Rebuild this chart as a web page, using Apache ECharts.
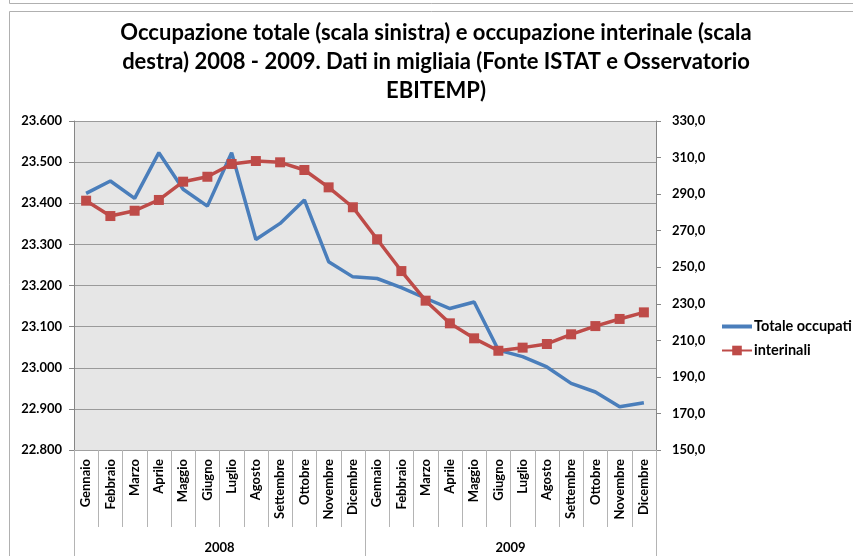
<!DOCTYPE html>
<html>
<head>
<meta charset="utf-8">
<script src="https://cdn.jsdelivr.net/npm/echarts@6/dist/echarts.min.js"></script>
<style>
html,body{margin:0;padding:0;background:#fff;}
#chart{width:853px;height:556px;}
</style>
</head>
<body>
<div id="chart"></div>
<script>
var titleText = 'Occupazione totale (scala sinistra) e occupazione interinale (scala\ndestra) 2008 - 2009. Dati in migliaia (Fonte ISTAT e Osservatorio\nEBITEMP)';
var months = ['Gennaio','Febbraio','Marzo','Aprile','Maggio','Giugno','Luglio','Agosto','Settembre','Ottobre','Novembre','Dicembre',
              'Gennaio','Febbraio','Marzo','Aprile','Maggio','Giugno','Luglio','Agosto','Settembre','Ottobre','Novembre','Dicembre'];
var years = ['2008','2009'];
var totaleOccupati = [23424,23454,23412,23523,23434,23393,23523,23312,23351,23408,23258,23221,
                      23217,23195,23169,23144,23160,23043,23027,23002,22962,22941,22905,22915];
var interinali = [286.4,278.0,280.9,286.8,296.8,299.5,306.5,308.1,307.4,303.2,293.7,282.8,
                  265.3,247.9,231.7,219.3,211.1,204.3,206.0,208.0,213.3,217.8,221.7,225.3];
var rightTicks = [150,170,190,210,230,250,270,290,310,330];
var seriesNames = ['Totale occupati','interinali'];

var FONT = 'Lato';
var chart = echarts.init(document.getElementById('chart'), null, {renderer:'canvas'});
var option = {
  backgroundColor: '#ffffff',
  animation: false,
  textStyle: {fontFamily: FONT},
  title: {
    text: titleText,
    left: 436,
    top: 18,
    textAlign: 'center',
    padding: 0,
    textStyle: {fontFamily: FONT, fontSize: 22, fontWeight: 'bold', color: '#000', lineHeight: 29}
  },
  graphic: [
    {type:'line', shape:{x1:9.5,y1:0,x2:9.5,y2:3.5}, style:{stroke:'#b0b0b0',lineWidth:1}},
    {type:'line', shape:{x1:9.5,y1:3.5,x2:853,y2:3.5}, style:{stroke:'#b0b0b0',lineWidth:1}},
    {type:'rect', shape:{x:9.5,y:11.5,width:900,height:600}, style:{fill:'none',stroke:'#b0b0b0',lineWidth:1}, z:-1}
  ],
  legend: {
    left: 716,
    top: 314,
    orient: 'vertical',
    itemWidth: 30,
    itemHeight: 12,
    itemGap: 9,
    data: [
      {name: seriesNames[0], icon: 'path://M0,0H30V4H0Z'},
      {name: seriesNames[1]}
    ],
    textStyle: {fontFamily: FONT, fontSize: 14.5, fontWeight: 'bold', color: '#000', padding: [0,0,0,-3]}
  },
  grid: {
    left: 74, right: 197, top: 121, bottom: 106,
    show: true, backgroundColor: '#e6e6e6', borderWidth: 0,
    containLabel: false
  },
  xAxis: [
    {
      type: 'category',
      data: months,
      boundaryGap: true,
      position: 'bottom',
      axisLine: {show: true, lineStyle: {color: '#a0a0a0', width: 1}},
      axisTick: {show: true, interval: 0, length: 77, lineStyle: {color: '#b4b4b4'}},
      axisLabel: {interval: 0, rotate: 90, margin: 9, fontFamily: FONT, fontSize: 13, fontWeight: 'bold', color: '#000'}
    },
    {
      type: 'category',
      data: years,
      boundaryGap: true,
      position: 'bottom',
      axisLine: {show: false},
      axisTick: {show: true, interval: 0, length: 110, lineStyle: {color: '#b4b4b4'}},
      axisLabel: {interval: 0, margin: 91, fontFamily: FONT, fontSize: 13, fontWeight: 'bold', color: '#000'}
    }
  ],
  yAxis: [
    {
      type: 'value',
      min: 22800, max: 23600, interval: 100,
      position: 'left',
      axisLine: {show: true, lineStyle: {color: '#868686'}},
      axisTick: {show: true, length: 5, lineStyle: {color: '#868686'}},
      splitLine: {show: true, lineStyle: {color: '#9a9a9a', width: 1}},
      axisLabel: {
        margin: 12, fontFamily: FONT, fontSize: 13, fontWeight: 'bold', color: '#000',
        formatter: function (v) { return String(Math.round(v)).replace(/\B(?=(\d{3})+(?!\d))/g, '.'); }
      }
    },
    {
      type: 'value',
      min: 150, max: 330,
      position: 'right',
      axisLine: {show: true, lineStyle: {color: '#868686'}},
      axisTick: {show: true, length: 5, customValues: rightTicks, lineStyle: {color: '#868686'}},
      splitLine: {show: false},
      axisLabel: {
        customValues: rightTicks,
        margin: 16, fontFamily: FONT, fontSize: 13, fontWeight: 'bold', color: '#000',
        formatter: function (v) { return v.toFixed(1).replace('.', ','); }
      }
    }
  ],
  series: [
    {
      name: seriesNames[0],
      type: 'line',
      xAxisIndex: 0, yAxisIndex: 0,
      data: totaleOccupati,
      symbol: 'none',
      lineStyle: {color: '#4a7ebb', width: 3.5},
      itemStyle: {color: '#4a7ebb'},
      z: 2
    },
    {
      name: seriesNames[1],
      type: 'line',
      xAxisIndex: 0, yAxisIndex: 1,
      data: interinali,
      symbol: 'rect',
      symbolSize: 10,
      showAllSymbol: true,
      lineStyle: {color: '#be4b48', width: 3.5},
      itemStyle: {color: '#be4b48'},
      z: 3
    }
  ]
};
chart.setOption(option);
</script>
</body>
</html>
